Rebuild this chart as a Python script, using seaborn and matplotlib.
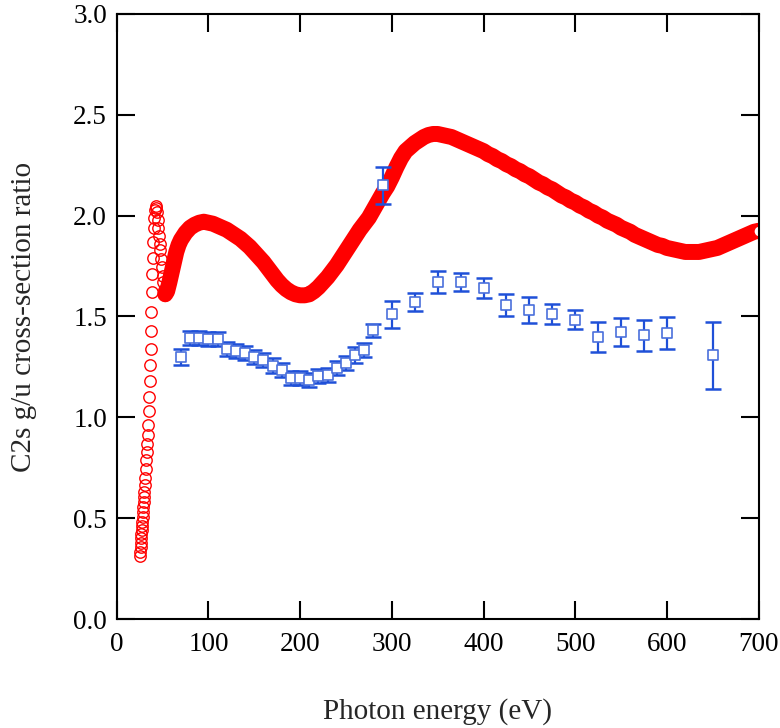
import matplotlib
matplotlib.use("Agg")
import matplotlib.pyplot as plt
import seaborn as sns

# Theory near threshold (individual circles)
thr_e = [25.4, 25.7, 26.0, 26.3, 26.6, 26.9, 27.2, 27.5, 27.9, 28.3,
         28.7, 29.1, 29.5, 29.9, 30.3, 30.8, 31.3, 31.9, 32.5, 33.0,
         33.5, 33.9, 34.4, 34.9, 35.4, 35.9, 36.4, 36.9, 37.4, 37.9,
         38.4, 38.9, 39.4, 39.9, 40.5, 41.1, 41.8, 42.6, 43.4, 44.0,
         44.6, 45.3, 46.0, 46.8, 47.5, 48.3, 49.2, 50.1, 51.0, 52.0, 53.0]
thr_v = [0.31, 0.333, 0.358, 0.378, 0.40, 0.42, 0.44, 0.46, 0.48, 0.506,
         0.53, 0.556, 0.58, 0.605, 0.63, 0.663, 0.70, 0.746, 0.787, 0.83,
         0.87, 0.91, 0.96, 1.03, 1.10, 1.18, 1.26, 1.34, 1.43, 1.52,
         1.62, 1.71, 1.79, 1.87, 1.94, 1.99, 2.03, 2.05, 2.04, 2.016,
         1.98, 1.94, 1.90, 1.86, 1.83, 1.785, 1.745, 1.70, 1.67, 1.63, 1.61]

# Theory above ~53 eV (dense points, drawn as a band)
band_e = [53, 55, 57.5, 60, 62.5, 65, 67.5, 70] + list(range(75, 705, 5))
band_v = [1.61, 1.625, 1.67, 1.72, 1.77, 1.82, 1.855, 1.88,
          1.915, 1.94, 1.955, 1.965, 1.97, 1.965, 1.96, 1.95, 1.94, 1.93,
          1.915, 1.90, 1.885, 1.865, 1.845, 1.82, 1.795, 1.77, 1.74, 1.71,
          1.68, 1.655, 1.635, 1.62, 1.61, 1.605, 1.605, 1.61, 1.625, 1.645,
          1.67, 1.695, 1.725, 1.755, 1.79, 1.825, 1.86, 1.895, 1.93, 1.96,
          1.99, 2.03, 2.07, 2.11, 2.145, 2.19, 2.24, 2.285, 2.32, 2.34,
          2.36, 2.375, 2.39, 2.40, 2.405, 2.405, 2.40, 2.395, 2.39, 2.38,
          2.37, 2.36, 2.35, 2.34, 2.33, 2.32, 2.305, 2.295, 2.28, 2.27,
          2.255, 2.245, 2.23, 2.22, 2.205, 2.195, 2.18, 2.165, 2.155, 2.14,
          2.13, 2.115, 2.10, 2.09, 2.075, 2.065, 2.05, 2.04, 2.025, 2.015,
          2.00, 1.99, 1.975, 1.965, 1.955, 1.94, 1.93, 1.92, 1.905, 1.895,
          1.885, 1.875, 1.865, 1.855, 1.85, 1.84, 1.835, 1.83, 1.825, 1.82,
          1.82, 1.82, 1.82, 1.825, 1.83, 1.835, 1.84, 1.85, 1.86, 1.87,
          1.88, 1.89, 1.90, 1.91, 1.92, 1.925]

# Experiment
exp_e = [70, 80, 90, 100, 110, 120, 130, 140, 150, 160,
         170, 180, 190, 200, 210, 220, 230, 240, 250, 260,
         270, 280, 290, 300, 325, 350, 375, 400, 425, 450,
         475, 500, 525, 550, 575, 600, 650]
exp_v = [1.30, 1.395, 1.395, 1.39, 1.39, 1.34, 1.328, 1.318, 1.30, 1.286,
         1.257, 1.236, 1.197, 1.197, 1.187, 1.203, 1.208, 1.246, 1.269, 1.307,
         1.335, 1.431, 2.15, 1.51, 1.571, 1.67, 1.67, 1.642, 1.559, 1.533,
         1.513, 1.485, 1.398, 1.422, 1.406, 1.417, 1.307]
exp_err = [0.04, 0.035, 0.035, 0.035, 0.035, 0.035, 0.035, 0.035, 0.035, 0.035,
           0.035, 0.035, 0.035, 0.035, 0.035, 0.035, 0.035, 0.035, 0.035, 0.04,
           0.035, 0.032, 0.09, 0.065, 0.045, 0.055, 0.045, 0.05, 0.055, 0.065,
           0.05, 0.045, 0.075, 0.07, 0.075, 0.08, 0.165]

sns.set_style("ticks")
plt.rcParams["font.family"] = ["Liberation Serif", "DejaVu Serif"]

fig = plt.figure(figsize=(7.8, 7.28), dpi=100)
ax = fig.add_axes([0.1496, 0.1497, 0.823, 0.8311])

red = "#ff0000"
blue = "#1f50d8"

# theory band
sns.lineplot(x=band_e, y=band_v, ax=ax, color=red, linewidth=11.5,
             solid_capstyle="round", solid_joinstyle="round", zorder=2)
ax.plot(band_e[-1], band_v[-1], "o", ms=8, mfc="white", mec=red, mew=1.0, zorder=2)

# theory near threshold
sns.lineplot(x=thr_e, y=thr_v, ax=ax, linestyle="", marker="o", markersize=8.2,
             markerfacecolor="none", markeredgecolor=red, markeredgewidth=1.0,
             zorder=2)

# experiment
ax.errorbar(exp_e, exp_v, yerr=exp_err, fmt="none", ecolor=blue,
            elinewidth=1.6, capsize=5.8, capthick=1.8, zorder=3)
sns.scatterplot(x=exp_e, y=exp_v, ax=ax, marker="s", s=62, color="white",
                edgecolor="#4a70dc", linewidth=1.2, zorder=4)

ax.set_xlim(0, 700)
ax.set_ylim(0, 3.0)
ax.set_xticks(range(0, 701, 100))
ax.set_yticks([0.0, 0.5, 1.0, 1.5, 2.0, 2.5, 3.0])
ax.set_yticklabels([f"{v:.1f}" for v in ax.get_yticks()])

for s in ax.spines.values():
    s.set_linewidth(1.5)
    s.set_color("black")
ax.tick_params(direction="in", length=13, width=1.5, top=True, right=True,
               labelsize=19.5, colors="black")
ax.tick_params(axis="y", pad=7)
ax.tick_params(axis="x", pad=9)

ax.set_xlabel("Photon energy (eV)", fontsize=21, labelpad=30)
ax.set_ylabel("C2s g/u cross-section ratio", fontsize=21, labelpad=26)

fig.savefig("out.png", dpi=100)
